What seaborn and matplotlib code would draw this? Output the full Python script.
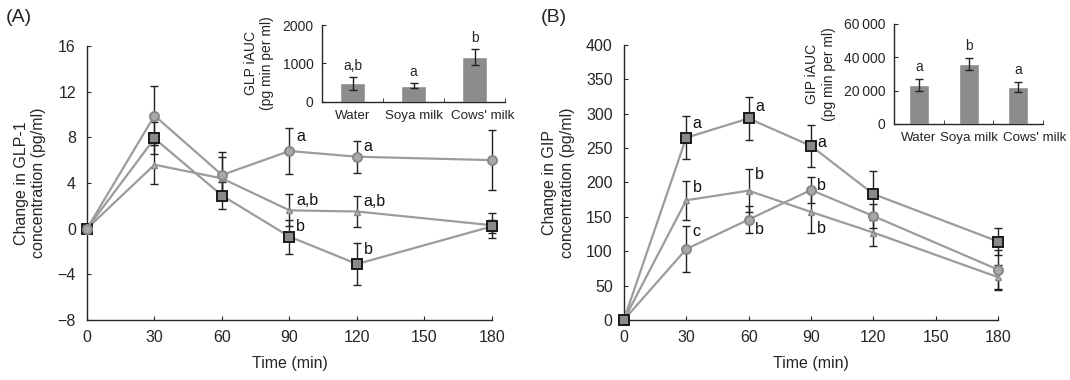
import numpy as np
import pandas as pd
import seaborn as sns
import matplotlib.pyplot as plt
import matplotlib.transforms as mtransforms
from matplotlib.ticker import FuncFormatter

# time points (min)
time = [0, 30, 60, 90, 120, 180]

# GLP-1 change (pg/ml)
glp_water = [0, 5.6, 4.4, 1.6, 1.5, 0.3]
glp_water_err = [0, 1.7, 1.9, 1.4, 1.4, 1.1]
glp_soya = [0, 7.9, 2.9, -0.7, -3.1, 0.2]
glp_soya_err = [0, 1.4, 1.2, 1.5, 1.85, 0.6]
glp_cows = [0, 9.9, 4.7, 6.8, 6.3, 6.0]
glp_cows_err = [0, 2.6, 2.0, 2.05, 1.4, 2.6]

# GIP change (pg/ml)
gip_water = [0, 174, 188, 157, 127, 62]
gip_water_err = [0, 28, 31, 31, 19, 18]
gip_soya = [0, 265, 293, 253, 183, 114]
gip_soya_err = [0, 31, 31, 30, 33, 19]
gip_cows = [0, 103, 146, 189, 151, 73]
gip_cows_err = [0, 33, 20, 19, 18, 28]

# iAUC insets
drinks = ["Water", "Soya milk", "Cows' milk"]
glp_auc = [480, 420, 1170]
glp_auc_err = [170, 70, 200]
glp_auc_letters = ["a,b", "a", "b"]
gip_auc = [23500, 36000, 22000]
gip_auc_err = [3500, 3500, 3000]
gip_auc_letters = ["a", "b", "a"]

# significance letters: (time, y, text)
glp_letters = [(90, 8.1, "a"), (90, 2.5, "a,b"), (90, 0.2, "b"),
               (120, 7.2, "a"), (120, 2.4, "a,b"), (120, -1.8, "b")]
gip_letters = [(30, 285, "a"), (30, 193, "b"), (30, 128, "c"),
               (60, 310, "a"), (60, 212, "b"), (60, 131, "b"),
               (90, 258, "a"), (90, 196, "b"), (90, 133, "b")]

sns.set_style("ticks")
plt.rcParams['font.family'] = ['Liberation Sans', 'DejaVu Sans']
plt.rcParams['axes.linewidth'] = 1.0

line_col = "#9c9c9c"
styles = {
    "water": dict(marker="^", markersize=5, markerfacecolor="#b4b4b4", markeredgecolor="#8a8a8a", markeredgewidth=1.0),
    "cows": dict(marker="o", markersize=6.5, markerfacecolor="#a8a8a8", markeredgecolor="#888888", markeredgewidth=1.4),
    "soya": dict(marker="s", markersize=6.5, markerfacecolor="#8a8a8a", markeredgecolor="#1a1a1a", markeredgewidth=1.4),
}

fig = plt.figure(figsize=(10.7, 3.8), dpi=100)
axA = fig.add_axes([0.0813, 0.158, 0.3785, 0.721])
axB = fig.add_axes([0.583, 0.158, 0.350, 0.724])
insA = fig.add_axes([0.301, 0.732, 0.171, 0.202])
insB = fig.add_axes([0.8355, 0.674, 0.1395, 0.263])


def draw_panel(ax, series, letters):
    for key, vals, errs in series:
        ax.errorbar(time, vals, yerr=errs, fmt="none", ecolor="#222222",
                    elinewidth=1.0, capsize=3, capthick=1.0, zorder=2, clip_on=False)
    for key, vals, errs in series:
        df = pd.DataFrame({"t": time, "v": vals})
        sns.lineplot(data=df, x="t", y="v", ax=ax, color=line_col, linewidth=1.6,
                     zorder=3, clip_on=False, **styles[key])
    for t, y, s in letters:
        ax.text(t + 3, y, s, fontsize=11.5, ha="left", va="center", color="#111111")
    ax.set_xlim(0, 180)
    ax.set_xticks([0, 30, 60, 90, 120, 150, 180])
    ax.set_xlabel("Time (min)", fontsize=11.5, labelpad=8)
    ax.tick_params(direction="in", length=3, labelsize=11.5)
    ax.tick_params(axis="y", pad=8)
    ax.tick_params(axis="x", pad=7)
    sns.despine(ax=ax)


draw_panel(axA, [("water", glp_water, glp_water_err),
                 ("soya", glp_soya, glp_soya_err),
                 ("cows", glp_cows, glp_cows_err)], glp_letters)
axA.set_ylim(-8, 16)
axA.set_yticks([-8, -4, 0, 4, 8, 12, 16])
axA.set_ylabel("Change in GLP-1\nconcentration (pg/ml)", fontsize=11.5, labelpad=8)

draw_panel(axB, [("water", gip_water, gip_water_err),
                 ("cows", gip_cows, gip_cows_err),
                 ("soya", gip_soya, gip_soya_err)], gip_letters)
axB.set_ylim(0, 400)
axB.set_yticks(range(0, 401, 50))
axB.set_ylabel("Change in GIP\nconcentration (pg/ml)", fontsize=11.5, labelpad=8)


def draw_inset(ax, vals, errs, labs, top, step, ylabel, shift, fmt=None):
    df = pd.DataFrame({"drink": drinks, "v": vals})
    sns.barplot(data=df, x="drink", y="v", ax=ax, color="#8c8c8c", width=0.4,
                saturation=1, errorbar=None)
    ax.errorbar(range(3), vals, yerr=errs, fmt="none", ecolor="#222222",
                elinewidth=1.0, capsize=3, capthick=1.0)
    for i, (v, e, s) in enumerate(zip(vals, errs, labs)):
        ax.text(i, v + e + top * 0.05, s, fontsize=10, ha="center", va="bottom")
    ax.set_xlim(-0.5, 2.5)
    ax.set_ylim(0, top)
    ax.set_yticks(np.arange(0, top + 1, step))
    if fmt:
        ax.yaxis.set_major_formatter(FuncFormatter(fmt))
    ax.set_xticks([0.5, 1.5, 2.5], minor=True)
    ax.tick_params(axis="x", which="major", length=0, labelsize=9.6, pad=6)
    ax.tick_params(axis="x", which="minor", direction="in", length=3)
    ax.tick_params(axis="y", direction="in", length=3, labelsize=10, pad=6)
    ax.set_xlabel("")
    ax.set_ylabel(ylabel, fontsize=10, labelpad=6)
    ax.patch.set_alpha(0)
    sns.despine(ax=ax)
    # last category label sits a bit to the right, as in the original
    lab = ax.get_xticklabels()[2]
    lab.set_transform(lab.get_transform() +
                      mtransforms.ScaledTranslation(shift / 100, 0, fig.dpi_scale_trans))


draw_inset(insA, glp_auc, glp_auc_err, glp_auc_letters, 2000, 1000,
           "GLP iAUC\n(pg min per ml)", shift=8)
draw_inset(insB, gip_auc, gip_auc_err, gip_auc_letters, 60000, 20000,
           "GIP iAUC\n(pg min per ml)", shift=16,
           fmt=lambda v, p: f"{int(v):,}".replace(",", "\u2009"))

fig.text(0.005, 0.975, "(A)", fontsize=14, va="top")
fig.text(0.505, 0.975, "(B)", fontsize=14, va="top")

fig.savefig("out.png", dpi=100)
